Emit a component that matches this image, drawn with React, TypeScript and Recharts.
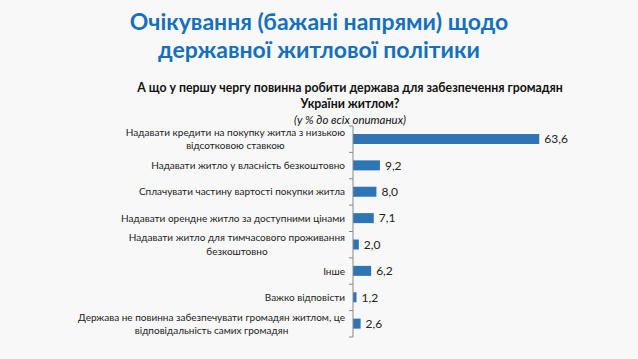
import { BarChart, Bar, XAxis, YAxis, LabelList } from 'recharts'

// answers, top to bottom ("\n" = line break in the label)
const categories = [
  'Надавати кредити на покупку житла з низькою\nвідсотковою ставкою',
  'Надавати житло у власність безкоштовно',
  'Сплачувати частину вартості покупки житла',
  'Надавати орендне житло за доступними цінами',
  'Надавати житло для тимчасового проживання\nбезкоштовно',
  'Інше',
  'Важко відповісти',
  'Держава не повинна забезпечувати громадян житлом, це\nвідповідальність самих громадян',
]
const values = [63.6, 9.2, 8.0, 7.1, 2.0, 6.2, 1.2, 2.6]

const title = ['Очікування (бажані напрями) щодо', 'державної житлової політики']
const question = ['А що у першу чергу повинна робити держава для забезпечення громадян', 'України житлом?']
const note = '(у % до всіх опитаних)'

const data = categories.map((name, i) => ({ name, value: values[i] }))

const FONT = 'Lato, "Open Sans", sans-serif'
const CHART_H = 225
const M_TOP = 6
const M_BOTTOM = 8
const BAND = (CHART_H - M_TOP - M_BOTTOM) / categories.length

let ctx: CanvasRenderingContext2D | null = null
function textWidth(s: string) {
  if (!ctx) ctx = document.createElement('canvas').getContext('2d')
  if (!ctx) return s.length * 5
  ctx.font = '10px Lato'
  return ctx.measureText(s).width
}

function CategoryTick(props: any) {
  const { x, y, payload, index } = props
  const lines: string[] = String(payload.value).split('\n')
  const right = x - 1
  const axisX = x + 7
  const maxW = Math.max(...lines.map(textWidth))
  const lineH = 13.5
  const y0 = y - ((lines.length - 1) * lineH) / 2
  return (
    <g>
      <line x1={axisX - 4} x2={axisX} y1={y - BAND / 2} y2={y - BAND / 2} stroke="#8a8a8a" />
      {index === categories.length - 1 && (
        <line x1={axisX - 4} x2={axisX} y1={y + BAND / 2} y2={y + BAND / 2} stroke="#8a8a8a" />
      )}
      {lines.map((l, i) => (
        <text
          key={i}
          x={lines.length > 1 ? right - maxW / 2 : right}
          y={y0 + i * lineH}
          dy="0.35em"
          textAnchor={lines.length > 1 ? 'middle' : 'end'}
          fontSize={10}
          fontFamily={FONT}
          fill="#222"
        >
          {l}
        </text>
      ))}
    </g>
  )
}

export default function App() {
  return (
    <div
      style={{
        position: 'absolute',
        left: 0,
        top: 0,
        width: 638,
        height: 359,
        background: '#f8f8f8',
        fontFamily: FONT,
        overflow: 'hidden',
      }}
    >
      <div
        style={{
          position: 'absolute',
          top: 7,
          left: 0,
          width: 638,
          textAlign: 'center',
          color: '#1470bd',
          fontWeight: 700,
          fontSize: 23,
          lineHeight: '28px',
        }}
      >
        {title.map((t) => (
          <div key={t}>{t}</div>
        ))}
      </div>
      <div
        style={{
          position: 'absolute',
          top: 80,
          left: 80,
          width: 540,
          textAlign: 'center',
          color: '#111',
          fontSize: 12.3,
          lineHeight: '16px',
        }}
      >
        {question.map((t) => (
          <div key={t} style={{ fontWeight: 700 }}>
            {t}
          </div>
        ))}
        <div style={{ fontStyle: 'italic', fontSize: 11.5 }}>{note}</div>
      </div>
      <div style={{ position: 'absolute', top: 120, left: 0 }}>
        <BarChart
          width={638}
          height={CHART_H}
          data={data}
          layout="vertical"
          margin={{ top: M_TOP, right: 80, bottom: M_BOTTOM, left: 0 }}
          barCategoryGap={0}
        >
          <XAxis type="number" domain={[0, 70]} hide />
          <YAxis
            type="category"
            dataKey="name"
            width={353}
            axisLine={{ stroke: '#8a8a8a' }}
            tickLine={false}
            tickSize={0}
            tickMargin={7}
            interval={0}
            tick={<CategoryTick />}
          />
          <Bar dataKey="value" fill="#2e75b6" barSize={10} isAnimationActive={false}>
            <LabelList
              dataKey="value"
              position="right"
              offset={5}
              formatter={(v: any) => Number(v).toFixed(1).replace('.', ',')}
              style={{ fontSize: 12, fill: '#222', fontFamily: FONT }}
            />
          </Bar>
        </BarChart>
      </div>
    </div>
  )
}
